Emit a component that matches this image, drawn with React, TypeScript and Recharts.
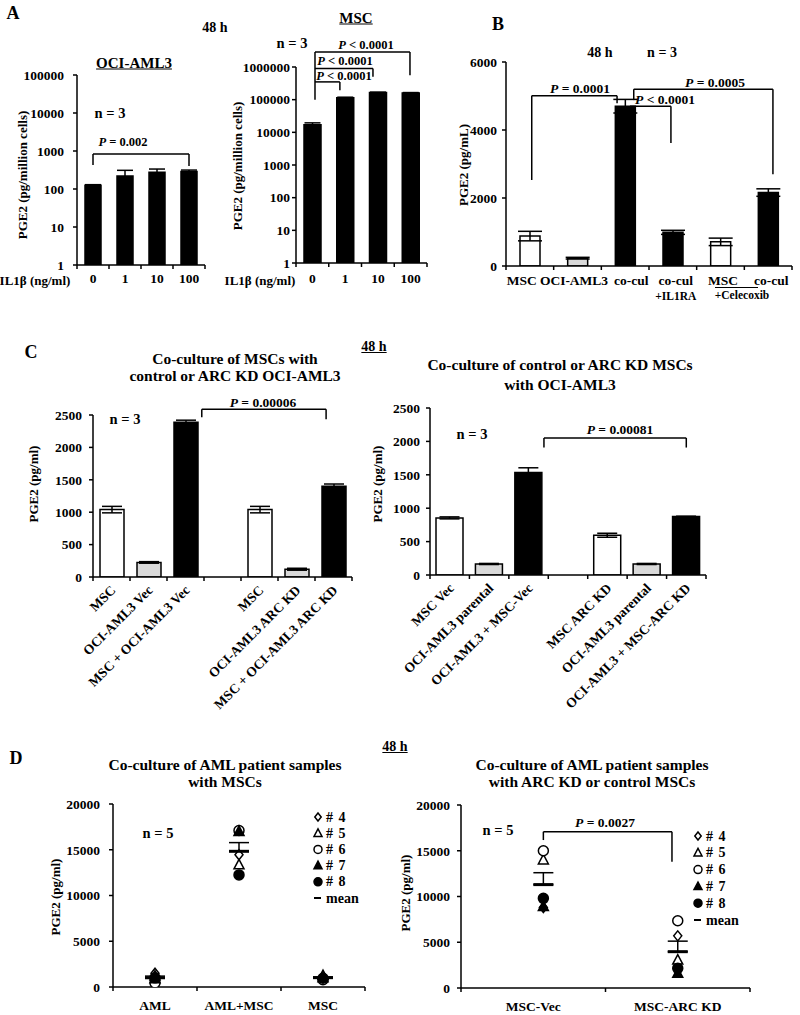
import React from 'react';
import { ComposedChart, ScatterChart, Bar, Scatter, XAxis, YAxis, ErrorBar, ReferenceLine, Cell } from 'recharts';

const FONT = "'Liberation Serif', 'Times New Roman', Times, serif";

// ---------------- DATA ----------------
// Panel A
const aDoseLabels = ['0', '1', '10', '100'];
const aOciValues = [125, 220, 275, 290];
const aOciErrors = [5, 90, 60, 25];
const aOciTicks = [1, 10, 100, 1000, 10000, 100000];
const aMscValues = [17000, 115000, 165000, 160000];
const aMscErrors = [2500, 4000, 5000, 5000];
const aMscTicks = [1, 10, 100, 1000, 10000, 100000, 1000000];

// Panel B
const bLabels = [['MSC'], ['OCI-AML3'], ['co-cul'], ['co-cul', '+IL1RA'], ['MSC'], ['co-cul']];
const bGroups = ['msc', 'aml', 'co', 'co', 'msc', 'co'];
const bValues = [880, 230, 4700, 990, 710, 2160];
const bErrors = [140, 25, 200, 60, 110, 110];
const bTicks = [0, 2000, 4000, 6000];

// Panel C
const cLeftLabels = ['MSC', 'OCI-AML3 Vec', 'MSC + OCI-AML3 Vec', '', 'MSC', 'OCI-AML3 ARC KD', 'MSC + OCI-AML3 ARC KD'];
const cLeftGroups = ['msc', 'aml', 'co', '', 'msc', 'aml', 'co'];
const cLeftValues = [1040, 225, 2390, null, 1040, 120, 1400];
const cLeftErrors = [50, 12, 30, null, 50, 15, 35];
const cRightLabels = ['MSC Vec', 'OCI-AML3 parental', 'OCI-AML3 + MSC-Vec', '', 'MSC ARC KD', 'OCI-AML3 parental', 'OCI-AML3 + MSC-ARC KD'];
const cRightGroups = ['msc', 'aml', 'co', '', 'msc', 'aml', 'co'];
const cRightValues = [855, 165, 1535, null, 595, 165, 875];
const cRightErrors = [15, 8, 70, null, 30, 8, 5];
const cTicks = [0, 500, 1000, 1500, 2000, 2500];

// Panel D
const dPatients = ['# 4', '# 5', '# 6', '# 7', '# 8'];
const dLeftGroups = ['AML', 'AML+MSC', 'MSC'];
const dLeftP4 = [1500, 14450, 1100];
const dLeftP5 = [1200, 13350, 1250];
const dLeftP6 = [450, 17100, 800];
const dLeftP7 = [900, 17000, 1000];
const dLeftP8 = [1000, 12250, 950];
const dLeftMean = [1010, 14830, 1020];
const dLeftSem = [180, 950, 80];
const dRightGroups = ['MSC-Vec', 'MSC-ARC KD'];
const dRightP4 = [8800, 5700];
const dRightP5 = [14000, 3050];
const dRightP6 = [15000, 7350];
const dRightP7 = [8900, 1600];
const dRightP8 = [9800, 2150];
const dRightMean = [11300, 3970];
const dRightSem = [1300, 1150];
const dTicks = [0, 5000, 10000, 15000, 20000];

// ---------------- STYLE ----------------
const FILL: Record<string, string> = { msc: '#ffffff', aml: '#d9d9d9', co: '#000000' };
const KINDS = ['diamond', 'tri', 'circle', 'triF', 'dot'];
const B_LABEL_DX = [-8, -3.5, 6, 3, 2.5, 3];
const YW = 80, MT = 50, MR = 12;
const AX = { stroke: '#000', strokeWidth: 1.5 };
const YT = { fontSize: 13.5, fontWeight: 'bold', fill: '#000', fontFamily: FONT };
const bounds = (n: number) => Array.from({ length: n + 1 }, (_, k) => k - 0.5);

const simpleTick = (labels: string[], bw: number, off: number, size = 13.5) => (props: any) => {
  const idx = Math.round(props.payload.value + 0.5);
  if (idx < 0 || idx >= labels.length) return <g />;
  const cx = props.x + bw / 2;
  const ay = props.y - 4;
  return (
    <text x={cx} y={ay + off} textAnchor="middle" dominantBaseline="central" fontSize={size} fontWeight="bold" fontFamily={FONT} fill="#000">
      {labels[idx]}
    </text>
  );
};

const bTick = (bw: number) => (props: any) => {
  const idx = Math.round(props.payload.value + 0.5);
  if (idx < 0 || idx >= bLabels.length) return <g />;
  const cx = props.x + bw / 2 + B_LABEL_DX[idx];
  const ay = props.y - 4;
  const lines = bLabels[idx];
  return (
    <g>
      <text x={cx} y={ay + 14} textAnchor="middle" dominantBaseline="central" fontSize={13.5} fontWeight="bold" fontFamily={FONT} fill="#000">{lines[0]}</text>
      {lines[1] ? (
        <text x={cx} y={ay + 30} textAnchor="middle" dominantBaseline="central" fontSize={11.5} fontWeight="bold" fontFamily={FONT} fill="#000">{lines[1]}</text>
      ) : null}
    </g>
  );
};

const rotTick = (labels: string[], bw: number) => (props: any) => {
  const idx = Math.round(props.payload.value + 0.5);
  if (idx < 0 || idx >= labels.length || !labels[idx]) return <g />;
  const tx = props.x + bw / 2 + 5;
  const ty = props.y - 4 + 14;
  return (
    <text x={tx} y={ty} textAnchor="end" transform={`rotate(-45 ${tx} ${ty})`} fontSize={13.5} fontWeight="bold" fontFamily={FONT} fill="#000">
      {labels[idx]}
    </text>
  );
};

function bracket(key: string, xl: number, xr: number, top: number, yl: number | null, yr: number | null) {
  const st = { stroke: '#000', strokeWidth: 1.5, ifOverflow: 'visible' as const };
  const out = [<ReferenceLine key={key + 'h'} segment={[{ x: xl, y: top }, { x: xr, y: top }]} {...st} />];
  if (yl != null) out.push(<ReferenceLine key={key + 'l'} segment={[{ x: xl, y: top }, { x: xl, y: yl }]} {...st} />);
  if (yr != null) out.push(<ReferenceLine key={key + 'r'} segment={[{ x: xr, y: top }, { x: xr, y: yr }]} {...st} />);
  return out;
}

function Txt({ x, y, s = 13, u = false, r = false, a = 'c', children }: any) {
  const tx = a === 'c' ? '-50%' : a === 'r' ? '-100%' : '0';
  return (
    <div
      style={{
        position: 'absolute', left: x, top: y, whiteSpace: 'nowrap', lineHeight: 1, fontSize: s,
        fontWeight: 'bold', fontFamily: FONT,
        textDecoration: u ? 'underline' : 'none',
        transform: `translate(${tx}, -50%)` + (r ? ' rotate(-90deg)' : ''),
      }}
    >
      {children}
    </div>
  );
}

function BarPanel(p: any) {
  const n = p.labelsN;
  const w = p.x1 - p.x0 + YW + MR;
  const h = p.y1 - p.y0 + MT + p.xh;
  return (
    <div style={{ position: 'absolute', left: p.x0 - YW, top: p.y0 - MT }}>
      <ComposedChart width={w} height={h} data={p.data} margin={{ top: MT, right: MR, left: 0, bottom: 0 }}>
        <XAxis dataKey="i" type="number" domain={[-0.5, n - 0.5]} ticks={bounds(n)} interval={0} height={p.xh}
          tickSize={4} tickMargin={0} axisLine={AX} tickLine={AX} tick={p.tick} allowDataOverflow />
        <YAxis type="number" scale={p.log ? 'log' : 'linear'} domain={p.yDomain} ticks={p.yTicks} interval={0} width={YW}
          tickSize={4} tickMargin={p.ytm} axisLine={AX} tickLine={AX} tick={YT} allowDataOverflow />
        <Bar dataKey="v" barSize={p.barSize} isAnimationActive={false} stroke="#000" strokeWidth={1.5}>
          {p.data.map((d: any, k: number) => <Cell key={k} fill={FILL[d.g]} />)}
          <ErrorBar dataKey="e" width={p.errW} stroke="#000" strokeWidth={1.5} direction="y" />
        </Bar>
        {p.children}
      </ComposedChart>
    </div>
  );
}

function Sym({ kind, cx, cy, r = 5 }: any) {
  const sw = 1.5;
  if (kind === 'diamond')
    return <polygon points={`${cx},${cy - r} ${cx + r * 0.8},${cy} ${cx},${cy + r} ${cx - r * 0.8},${cy}`} fill="#fff" stroke="#000" strokeWidth={sw} />;
  if (kind === 'tri' || kind === 'triF')
    return <polygon points={`${cx},${cy - r * 1.1} ${cx + r},${cy + r * 0.8} ${cx - r},${cy + r * 0.8}`} fill={kind === 'triF' ? '#000' : '#fff'} stroke="#000" strokeWidth={sw} />;
  return <circle cx={cx} cy={cy} r={r} fill={kind === 'dot' ? '#000' : '#fff'} stroke="#000" strokeWidth={sw} />;
}

const meanShape = (p: any) => <line x1={p.cx - 10} x2={p.cx + 10} y1={p.cy} y2={p.cy} stroke="#000" strokeWidth={3} />;

function DotPanel(p: any) {
  const n = p.groups.length;
  const bw = (p.x1 - p.x0) / n;
  const w = p.x1 - p.x0 + YW + MR;
  const h = p.y1 - p.y0 + MT + p.xh;
  const pts = (vals: number[]) => vals.map((y, k) => ({ x: k + p.jit[k], y }));
  const meanData = p.mean.map((y: number, k: number) => ({ x: k + p.jit[k], y, e: [0, p.sem[k]] }));
  return (
    <div style={{ position: 'absolute', left: p.x0 - YW, top: p.y0 - MT }}>
      <ScatterChart width={w} height={h} margin={{ top: MT, right: MR, left: 0, bottom: 0 }}>
        <XAxis dataKey="x" type="number" domain={[-0.5, n - 0.5]} ticks={bounds(n)} interval={0} height={p.xh}
          tickSize={4} tickMargin={0} axisLine={AX} tickLine={AX} tick={simpleTick(p.groups, bw, 18)} allowDataOverflow />
        <YAxis dataKey="y" type="number" domain={[0, 20000]} ticks={dTicks} interval={0} width={YW}
          tickSize={4} tickMargin={p.ytm} axisLine={AX} tickLine={AX} tick={YT} allowDataOverflow />
        {p.series.map((vals: number[], k: number) => (
          <Scatter key={k} data={pts(vals)} isAnimationActive={false}
            shape={(sp: any) => <Sym kind={KINDS[k]} cx={sp.cx} cy={sp.cy} r={5} />} />
        ))}
        <Scatter data={meanData} isAnimationActive={false} shape={meanShape}>
          <ErrorBar dataKey="e" direction="y" width={10} stroke="#000" strokeWidth={1.5} />
        </Scatter>
        {p.children}
      </ScatterChart>
    </div>
  );
}

function DLegend({ x, y, dy }: any) {
  return (
    <div style={{ position: 'absolute', left: x - 8, top: y - 9 }}>
      <svg width={80} height={dy * 6 + 18} style={{ display: 'block' }}>
        {dPatients.map((p, k) => (
          <g key={p}>
            <Sym kind={KINDS[k]} cx={8} cy={9 + k * dy} r={4} />
            <text x={16} y={9 + k * dy} dominantBaseline="central" fontSize={14} fontWeight="bold" fontFamily={FONT} wordSpacing={2}>{p}</text>
          </g>
        ))}
        <line x1={4} x2={11} y1={9 + 5 * dy} y2={9 + 5 * dy} stroke="#000" strokeWidth={2} />
        <text x={16} y={9 + 5 * dy} dominantBaseline="central" fontSize={14} fontWeight="bold" fontFamily={FONT}>mean</text>
      </svg>
    </div>
  );
}

const P = () => <i>P</i>;

export default function App() {
  const aOciData = aDoseLabels.map((_, i) => ({ i, v: aOciValues[i], e: aOciErrors[i], g: 'co' }));
  const aMscData = aDoseLabels.map((_, i) => ({ i, v: aMscValues[i], e: aMscErrors[i], g: 'co' }));
  const bData = bValues.map((v, i) => ({ i, v, e: bErrors[i], g: bGroups[i] }));
  const cLeftData = cLeftValues.map((v, i) => ({ i, v, e: cLeftErrors[i], g: cLeftGroups[i] })).filter((d) => d.v != null);
  const cRightData = cRightValues.map((v, i) => ({ i, v, e: cRightErrors[i], g: cRightGroups[i] })).filter((d) => d.v != null);

  return (
    <div style={{ position: 'absolute', left: 0, top: 0, width: 800, height: 1015, background: '#fff', overflow: 'hidden', fontFamily: FONT, color: '#000' }}>
      {/* ---------- Panel A ---------- */}
      <BarPanel x0={77} y0={75} x1={205} y1={265} xh={30} labelsN={4} data={aOciData} log yDomain={[1, 100000]} yTicks={aOciTicks}
        ytm={9} barSize={16} errW={8} tick={simpleTick(aDoseLabels, 32, 13)}>
        {bracket('a1', 0, 3, 830, 430, 400)}
      </BarPanel>
      <BarPanel x0={296} y0={67} x1={427} y1={263} xh={30} labelsN={4} data={aMscData} log yDomain={[1, 1000000]} yTicks={aMscTicks}
        ytm={2} barSize={17} errW={8} tick={simpleTick(aDoseLabels, 32.75, 15)}>
        {bracket('m1', 0.08, 2.98, 2900000, 100000, 560000)}
        {bracket('m2', 0.08, 1.85, 900000, null, 500000)}
        {bracket('m3', 0.08, 0.84, 350000, null, 195000)}
      </BarPanel>
      <Txt x={13} y={13} s={18}>A</Txt>
      <Txt x={215} y={28} s={14}>48 h</Txt>
      <Txt x={134} y={63} s={15} u>OCI-AML3</Txt>
      <Txt x={356} y={18} s={15} u>MSC</Txt>
      <Txt x={110} y={113} s={14.5}>n = 3</Txt>
      <Txt x={292} y={43} s={14.5}>n = 3</Txt>
      <Txt x={123} y={142} s={12.5}><P /> = 0.002</Txt>
      <Txt x={366} y={45} s={12.5}><P /> &lt; 0.0001</Txt>
      <Txt x={345} y={61} s={12.5}><P /> &lt; 0.0001</Txt>
      <Txt x={344} y={76} s={12.5}><P /> &lt; 0.0001</Txt>
      <Txt x={22} y={175} s={13} r>PGE2 (pg/million cells)</Txt>
      <Txt x={237} y={166} s={13} r>PGE2 (pg/million cells)</Txt>
      <Txt x={35} y={280} s={13}>IL1β (ng/ml)</Txt>
      <Txt x={260} y={280} s={13}>IL1β (ng/ml)</Txt>

      {/* ---------- Panel B ---------- */}
      <BarPanel x0={506} y0={62} x1={792} y1={266} xh={40} labelsN={6} data={bData} yDomain={[0, 6000]} yTicks={bTicks}
        ytm={5} barSize={20} errW={12} tick={bTick(47.67)}>
        {bracket('b1', 0.04, 1.83, 5010, 2530, 4790)}
        {bracket('b2', 2.1, 2.96, 4700, null, 3620)}
        {bracket('b3', 2.18, 5.1, 5200, 4880, 2700)}
      </BarPanel>
      <Txt x={498} y={24} s={18}>B</Txt>
      <Txt x={600} y={53} s={14}>48 h</Txt>
      <Txt x={662} y={53} s={14}>n = 3</Txt>
      <Txt x={580} y={89} s={13.5}><P /> = 0.0001</Txt>
      <Txt x={665} y={100} s={13.5}><P /> &lt; 0.0001</Txt>
      <Txt x={715} y={83} s={13.5}><P /> = 0.0005</Txt>
      <Txt x={463} y={165} s={13} r>PGE2 (pg/mL)</Txt>
      <div style={{ position: 'absolute', left: 715, top: 287, width: 43, height: 0, borderTop: '1.5px solid #000' }} />
      <Txt x={742} y={296} s={11.5}>+Celecoxib</Txt>

      {/* ---------- Panel C ---------- */}
      <BarPanel x0={93} y0={415} x1={352} y1={577} xh={150} labelsN={7} data={cLeftData} yDomain={[0, 2500]} yTicks={cTicks}
        ytm={7} barSize={24} errW={10} tick={rotTick(cLeftLabels, 37)}>
        {bracket('c1', 2.44, 5.8, 2588, 2464, 2433)}
      </BarPanel>
      <BarPanel x0={430} y0={408} x1={706} y1={575} xh={150} labelsN={7} data={cRightData} yDomain={[0, 2500]} yTicks={cTicks}
        ytm={6} barSize={27} errW={10} tick={rotTick(cRightLabels, 39.43)}>
        {bracket('c2', 2.39, 6, 2051, 1908, 1908)}
      </BarPanel>
      <Txt x={31} y={352} s={18}>C</Txt>
      <Txt x={374} y={347} s={14} u>48 h</Txt>
      <Txt x={235} y={359} s={15.5}>Co-culture of MSCs with</Txt>
      <Txt x={235} y={376} s={15.5}>control or ARC KD OCI-AML3</Txt>
      <Txt x={560} y={365} s={15.5}>Co-culture of control or ARC KD MSCs</Txt>
      <Txt x={560} y={385} s={15.5}>with OCI-AML3</Txt>
      <Txt x={125} y={419} s={14.5}>n = 3</Txt>
      <Txt x={472} y={434} s={14.5}>n = 3</Txt>
      <Txt x={263} y={403} s={13.5}><P /> = 0.00006</Txt>
      <Txt x={620} y={430} s={13.5}><P /> = 0.00081</Txt>
      <Txt x={33} y={484} s={13} r>PGE2 (pg/ml)</Txt>
      <Txt x={377} y={484} s={13} r>PGE2 (pg/ml)</Txt>

      {/* ---------- Panel D ---------- */}
      <DotPanel x0={113} y0={804} x1={365} y1={987} xh={28} groups={dLeftGroups} ytm={9}
        series={[dLeftP4, dLeftP5, dLeftP6, dLeftP7, dLeftP8]} mean={dLeftMean} sem={dLeftSem} jit={[0, 0, 0]} />
      <DotPanel x0={461} y0={805} x1={750} y1={988} xh={27} groups={dRightGroups} ytm={7}
        series={[dRightP4, dRightP5, dRightP6, dRightP7, dRightP8]} mean={dRightMean} sem={dRightSem} jit={[0.07, 0]}>
        {bracket('d1', 0.07, 0.96, 17080, 16170, 13800)}
      </DotPanel>
      <Txt x={16} y={758} s={18}>D</Txt>
      <Txt x={395} y={747} s={14} u>48 h</Txt>
      <Txt x={225} y={765} s={15.5}>Co-culture of AML patient samples</Txt>
      <Txt x={225} y={782} s={15.5}>with MSCs</Txt>
      <Txt x={592} y={765} s={15.5}>Co-culture of AML patient samples</Txt>
      <Txt x={592} y={782} s={15.5}>with ARC KD or control MSCs</Txt>
      <Txt x={158} y={833} s={14.5}>n = 5</Txt>
      <Txt x={498} y={830} s={14.5}>n = 5</Txt>
      <Txt x={605} y={823} s={13.5}><P /> = 0.0027</Txt>
      <Txt x={55} y={897} s={13} r>PGE2 (pg/ml)</Txt>
      <Txt x={405} y={893} s={13} r>PGE2 (pg/ml)</Txt>
      <DLegend x={318} y={817} dy={16.2} />
      <DLegend x={698} y={836} dy={16.8} />
    </div>
  );
}
